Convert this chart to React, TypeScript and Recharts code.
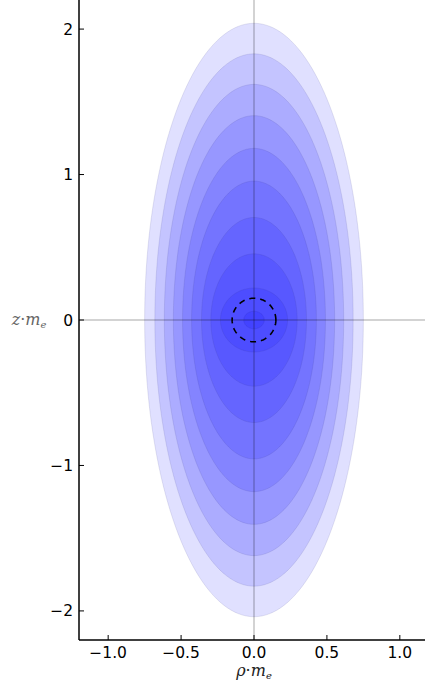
import React from "react";
import {
  ComposedChart,
  Area,
  Line,
  XAxis,
  YAxis,
  ReferenceLine,
  Label,
} from "recharts";

// semi-axes of the filled contour levels, outermost first
const contourRho = [0.75, 0.68, 0.615, 0.553, 0.49, 0.428, 0.36, 0.296, 0.23, 0.07];
const contourZ = [2.04, 1.83, 1.62, 1.405, 1.18, 0.955, 0.705, 0.455, 0.22, 0.06];

// dashed circle radius
const circleRadius = 0.15;

const xTicks = [-1, -0.5, 0, 0.5, 1];
const yTicks = [-2, -1, 0, 1, 2];
const xDomain = [-1.2, 1.2];
const yDomain = [-2.2, 2.2];

const SAMPLES = 90;

// outline of an ellipse as a band [low, high] over rho
function ellipseBand(a: number, b: number) {
  const pts = [];
  for (let i = 0; i <= SAMPLES; i++) {
    const t = (Math.PI * i) / SAMPLES;
    const h = b * Math.sin(t);
    pts.push({ x: -a * Math.cos(t), band: [-h, h] });
  }
  return pts;
}

function circlePath(r: number) {
  const pts = [];
  for (let i = 0; i <= 120; i++) {
    const t = (2 * Math.PI * i) / 120;
    pts.push({ x: r * Math.cos(t), y: r * Math.sin(t) });
  }
  return pts;
}

const bands = contourRho.map((a, i) => ellipseBand(a, contourZ[i]));
const circle = circlePath(circleRadius);

const fmtX = (v: number) => (v < 0 ? "\u2212" + Math.abs(v).toFixed(1) : v.toFixed(1));
const fmtY = (v: number) => (v < 0 ? "\u2212" + Math.abs(v) : String(v));
const noLabel = () => "";

const tickFont = { fontSize: 15.5, fill: "#000", fontFamily: "DejaVu Sans" };
const spine = { stroke: "#000", strokeWidth: 1.5 };
const inTick = { stroke: "#000", strokeWidth: 1 };

function MathLabel({ cx, cy, base, color }: { cx: number; cy: number; base: string; color: string }) {
  return (
    <text
      x={cx}
      y={cy}
      textAnchor="middle"
      fill={color}
      fontFamily="DejaVu Serif"
      fontStyle="italic"
      fontSize={16}
    >
      {base}
      <tspan fontStyle="normal">{"\u00b7"}</tspan>
      m
      <tspan fontSize={10} dy={3}>
        e
      </tspan>
    </text>
  );
}

export default function App() {
  return (
    <div style={{ position: "absolute", left: 0, top: 0, width: 425, height: 685, overflow: "hidden", background: "#fff" }}>
      <ComposedChart width={440} height={685} margin={{ top: 0, right: 11, bottom: 0, left: 0 }}>
        <XAxis
          xAxisId="b"
          type="number"
          dataKey="x"
          domain={xDomain}
          ticks={xTicks}
          allowDataOverflow
          height={45}
          tickLine={inTick}
          tickSize={-5}
          tickMargin={12}
          tick={tickFont}
          tickFormatter={fmtX}
          axisLine={spine}
        >
          <Label
            content={(p: any) => (
              <MathLabel cx={p.viewBox.x + p.viewBox.width / 2} cy={p.viewBox.y + 36} base={"\u03c1"} color="#222" />
            )}
          />
        </XAxis>
        <XAxis
          xAxisId="t"
          type="number"
          dataKey="x"
          orientation="top"
          mirror
          height={0}
          domain={xDomain}
          ticks={xTicks}
          allowDataOverflow
          tickFormatter={noLabel}
          tickSize={5}
          tickLine={inTick}
          axisLine={spine}
        />
        <YAxis
          yAxisId="l"
          type="number"
          domain={yDomain}
          ticks={yTicks}
          allowDataOverflow
          width={79}
          tickLine={inTick}
          tickSize={-5}
          tickMargin={11}
          tick={tickFont}
          tickFormatter={fmtY}
          axisLine={spine}
        >
          <Label
            content={(p: any) => (
              <MathLabel cx={29} cy={p.viewBox.y + p.viewBox.height / 2 + 5} base="z" color="#666" />
            )}
          />
        </YAxis>
        <YAxis
          yAxisId="r"
          type="number"
          orientation="right"
          mirror
          width={0}
          domain={yDomain}
          ticks={yTicks}
          allowDataOverflow
          tickFormatter={noLabel}
          tickSize={5}
          tickLine={inTick}
          axisLine={spine}
        />
        {bands.map((d, i) => (
          <Area
            key={i}
            xAxisId="b"
            yAxisId="l"
            data={d}
            dataKey="band"
            type="linear"
            fill="#0000ff"
            fillOpacity={0.12}
            stroke="#303080"
            strokeOpacity={0.12}
            strokeWidth={1}
            dot={false}
            activeDot={false}
            isAnimationActive={false}
          />
        ))}
        <ReferenceLine xAxisId="b" yAxisId="l" x={0} stroke="#000" strokeOpacity={0.35} strokeWidth={1} />
        <ReferenceLine xAxisId="b" yAxisId="l" y={0} stroke="#000" strokeOpacity={0.35} strokeWidth={1} />
        <Line
          xAxisId="b"
          yAxisId="l"
          data={circle}
          dataKey="y"
          type="linear"
          stroke="#000"
          strokeWidth={1.6}
          strokeDasharray="6 5"
          dot={false}
          activeDot={false}
          isAnimationActive={false}
        />
        {/* invisible series so the top/right frame axes get drawn */}
        <Line
          xAxisId="t"
          yAxisId="r"
          data={circle}
          dataKey="y"
          stroke="none"
          dot={false}
          activeDot={false}
          legendType="none"
          isAnimationActive={false}
        />
      </ComposedChart>
    </div>
  );
}
